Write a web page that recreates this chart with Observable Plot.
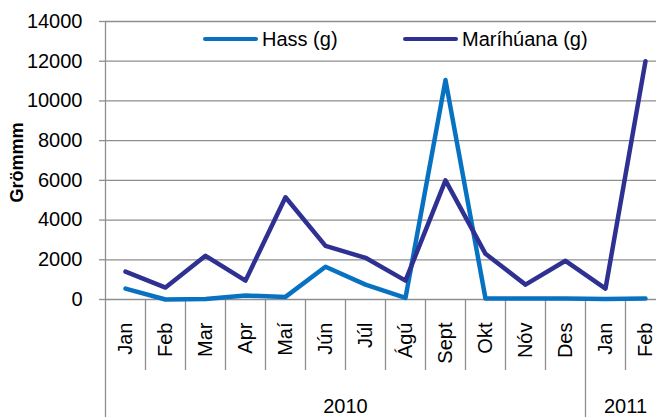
<!DOCTYPE html>
<html>
<head>
<meta charset="utf-8">
<script src="https://cdn.jsdelivr.net/npm/d3@7"></script>
<script src="https://cdn.jsdelivr.net/npm/@observablehq/plot@0.6"></script>
<style>
  html, body { margin: 0; padding: 0; background: #fff; }
  #wrap { position: relative; width: 656px; height: 417px; overflow: hidden; font-family: "Liberation Sans", Arial, sans-serif; }
  .item { position: absolute; top: 29px; display: flex; align-items: center; height: 20px; font-size: 20px; line-height: 20px; color: #000; white-space: nowrap; }
  .swatch { width: 55px; height: 4.5px; border-radius: 3px; margin-right: 4px; }
</style>
</head>
<body>
<div id="wrap"></div>
<script>
// ---- data ----
const months = ["Jan", "Feb", "Mar", "Apr", "Maí", "Jún", "Júl", "Ágú", "Sept", "Okt", "Nóv", "Des", "Jan", "Feb"];
const years = ["2010", "2011"];
const monthsPerYear = [12, 2];
const hass = [550, 0, 30, 200, 130, 1650, 750, 80, 11050, 50, 50, 50, 30, 50];
const marijuana = [1400, 600, 2200, 950, 5150, 2700, 2100, 950, 6000, 2300, 750, 1950, 550, 12000];
const seriesNames = ["Hass (g)", "Maríhúana (g)"];
const seriesColors = ["#0872c2", "#2e3192"];
const yTicks = [0, 2000, 4000, 6000, 8000, 10000, 12000, 14000];
const yTitle = "Grömmm";

// ---- derived tables ----
const seriesValues = [hass, marijuana];
const rows = [];
seriesNames.forEach((s, k) => seriesValues[k].forEach((v, i) => rows.push({i, v, s})));

const yearStarts = [];
let acc = 0;
for (const n of monthsPerYear) { yearStarts.push(acc); acc += n; }
const yearBoundaries = yearStarts.map(s => s - 0.5);
const yearCenters = yearStarts.map((s, k) => s - 0.5 + monthsPerYear[k] / 2);
const monthBoundaries = d3.range(months.length - 1).map(i => i + 0.5).filter(b => !yearBoundaries.includes(b));

const gridColor = "#8e8e8e";
const font = "'Liberation Sans', Arial, sans-serif";

const chart = Plot.plot({
  width: 656,
  height: 417,
  marginLeft: 105,
  marginRight: 0,
  marginTop: 21,
  marginBottom: 118,
  style: { fontFamily: font, fontSize: "20px", color: "#000", background: "#fff", overflow: "visible" },
  x: { type: "linear", domain: [-0.5, months.length - 0.5], range: [105, 105 + 40 * months.length] },
  y: { domain: [0, 14000] },
  color: { domain: seriesNames, range: seriesColors },
  marks: [
    Plot.ruleY(yTicks, { stroke: gridColor, strokeWidth: 1.3 }),
    Plot.ruleX([yearBoundaries[0]], { stroke: gridColor, strokeWidth: 1.3 }),
    Plot.axisY({ ticks: yTicks, tickSize: 6, tickPadding: 17, tickFormat: d => String(d), label: null, stroke: gridColor, strokeWidth: 1.3, fontSize: 20 }),
    Plot.axisX({ ticks: monthBoundaries, tickSize: 71, tickFormat: () => "", label: null, stroke: gridColor, strokeWidth: 1.3 }),
    Plot.axisX({ ticks: yearBoundaries, tickSize: 118, tickFormat: () => "", label: null, stroke: gridColor, strokeWidth: 1.3 }),
    Plot.axisX({ ticks: d3.range(months.length), tickSize: 0, tickPadding: 23, tickRotate: -90, tickFormat: i => months[i], label: null, fontSize: 20 }),
    Plot.axisX({ ticks: yearCenters, tickSize: 0, tickPadding: 99, tickFormat: d => years[yearCenters.indexOf(d)], label: null, fontSize: 20 }),
    Plot.text([yTitle], { text: d => d, frameAnchor: "left", textAnchor: "middle", lineAnchor: "middle", rotate: -90, dx: -88, dy: 2, fontWeight: "bold", fontSize: "18px", fill: "#000" }),
    Plot.line(rows, { x: "i", y: "v", z: "s", stroke: "s", strokeWidth: 4.5 })
  ]
});

const wrap = document.getElementById("wrap");
wrap.appendChild(chart);

// legend (HTML, over the plot area)
const legendLeft = [203, 403];
seriesNames.forEach((name, k) => {
  const item = document.createElement("div");
  item.className = "item";
  item.style.left = legendLeft[k] + "px";
  const sw = document.createElement("div");
  sw.className = "swatch";
  sw.style.background = seriesColors[k];
  const label = document.createElement("span");
  label.textContent = name;
  item.appendChild(sw);
  item.appendChild(label);
  wrap.appendChild(item);
});
</script>
</body>
</html>
